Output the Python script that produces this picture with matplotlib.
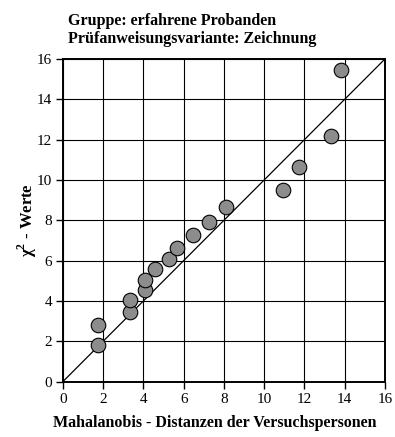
import numpy as np
import matplotlib.pyplot as plt

# Mahalanobis distances vs chi-square quantiles
mahalanobis = [1.72, 1.72, 3.31, 3.31, 4.06, 4.06, 4.55, 5.26, 5.66, 6.46,
               7.25, 8.10, 10.93, 11.75, 13.31, 13.82]
chi2_werte = [1.82, 2.80, 3.44, 4.02, 4.52, 5.05, 5.56, 6.09, 6.61, 7.25,
              7.93, 8.66, 9.50, 10.65, 12.20, 15.43]
ticks = [0, 2, 4, 6, 8, 10, 12, 14, 16]

plt.rcParams['font.family'] = ['Liberation Serif', 'DejaVu Serif']
plt.rcParams['mathtext.fontset'] = 'custom'
plt.rcParams['mathtext.rm'] = 'Liberation Serif'
plt.rcParams['mathtext.bf'] = 'Liberation Serif:bold'

fig = plt.figure(figsize=(3.95, 4.37), dpi=100)
ax = fig.add_axes([0.1595, 0.127, 0.815, 0.738])

ax.plot([0, 16], [0, 16], color='black', lw=0.9, zorder=2)
ax.scatter(mahalanobis, chi2_werte, s=110, facecolor='#8c8c8c',
           edgecolor='black', linewidth=0.8, zorder=3, clip_on=False)

ax.set_xlim(0, 16)
ax.set_ylim(0, 16)
ax.set_xticks(ticks)
ax.set_yticks(ticks)
ax.grid(True, color='black', lw=0.8)
ax.set_axisbelow(True)
for s in ax.spines.values():
    s.set_linewidth(1.4)
ax.tick_params(direction='out', length=5, width=1, labelsize=11, pad=3)

fig.text(215 / 395, 1 - 427 / 437, 'Mahalanobis - Distanzen der Versuchspersonen',
         fontweight='bold', fontsize=11.5, ha='center', va='baseline')
fig.text(27 / 395, 1 - 220 / 437, r'$\mathbf{\chi}^{\mathbf{2}}$ - Werte',
         fontweight='bold', fontsize=12, rotation=90, ha='center', va='center')

fig.text(68 / 395, 1 - 25 / 437, 'Gruppe: erfahrene Probanden',
         fontweight='bold', fontsize=11.5, ha='left', va='baseline')
fig.text(68 / 395, 1 - 43 / 437, 'Prüfanweisungsvariante: Zeichnung',
         fontweight='bold', fontsize=11.5, ha='left', va='baseline')

fig.savefig('out.png', dpi=100)
